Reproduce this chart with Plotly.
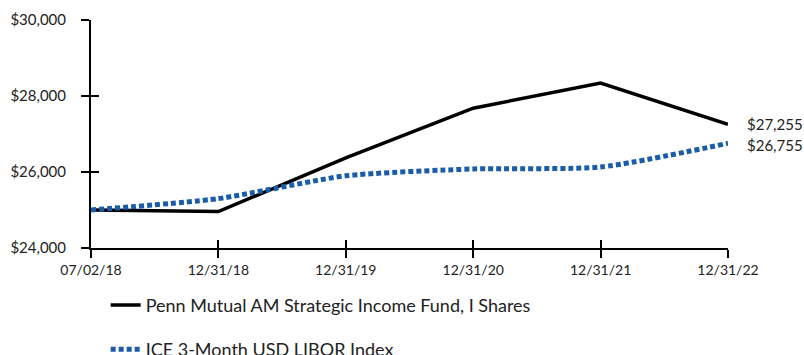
import plotly.graph_objects as go

# Growth of a $25,000 investment
dates = ["07/02/18", "12/31/18", "12/31/19", "12/31/20", "12/31/21", "12/31/22"]
fund_values = [25000, 24960, 26370, 27680, 28340, 27255]
index_values = [25000, 25300, 25900, 26080, 26130, 26755]
fund_name = "Penn Mutual AM Strategic Income Fund, I Shares"
index_name = "ICE 3-Month USD LIBOR Index"
y_ticks = [24000, 26000, 28000, 30000]

FONT = "Lato"
BLUE = "#1a5ca8"

fig = go.Figure()

fig.add_trace(go.Scatter(
    x=dates, y=fund_values, name=fund_name, mode="lines",
    line=dict(color="black", width=3.5),
    legendgroup="fund", hoverinfo="skip",
))
fig.add_trace(go.Scatter(
    x=dates, y=index_values, name=index_name, mode="lines",
    line=dict(color=BLUE, width=5, dash="5px,3px", shape="spline", smoothing=0.6),
    legendgroup="index", xaxis="x2", yaxis="y2", hoverinfo="skip",
))

# Ending values beside the last point of each series
for vals, dy in ((fund_values, 0), (index_values, -2)):
    fig.add_annotation(
        x=dates[-1], y=vals[-1], xref="x", yref="y",
        text=f"${vals[-1]:,}", showarrow=False,
        xanchor="left", xshift=17, yshift=dy,
        font=dict(family=FONT, size=15, color="#222"),
    )

axis_common = dict(
    showgrid=False, zeroline=False, showline=True,
    linecolor="black", linewidth=2,
    tickcolor="black", tickwidth=2, ticklen=8,
)

fig.update_layout(
    width=804, height=355,
    margin=dict(l=91, r=76, t=20, b=107, autoexpand=False),
    paper_bgcolor="white", plot_bgcolor="white",
    font=dict(family=FONT, color="#222"),
    xaxis=dict(
        **axis_common, type="category", range=[0, len(dates) - 1],
        ticks="outside", tickfont=dict(size=14, family=FONT),
    ),
    yaxis=dict(
        **axis_common, range=[24000, 30000], tickvals=y_ticks,
        ticktext=[f"${v:,}" for v in y_ticks],
        ticks="outside", ticklabelstandoff=12,
        tickfont=dict(size=15, family=FONT),
    ),
    xaxis2=dict(
        **axis_common, type="category", range=[0, len(dates) - 1],
        overlaying="x", ticks="inside", showticklabels=False, anchor="y2",
    ),
    yaxis2=dict(
        **axis_common, range=[24000, 30000], tickvals=y_ticks,
        overlaying="y", side="left", ticks="inside", showticklabels=False, anchor="x2",
    ),
    showlegend=True,
    legend=dict(
        x=0.023, xanchor="left", y=-0.17, yanchor="top",
        orientation="v", traceorder="grouped", tracegroupgap=18,
        font=dict(family=FONT, size=18, color="#222"),
        bgcolor="rgba(0,0,0,0)",
    ),
)

fig.write_html("out.html")
